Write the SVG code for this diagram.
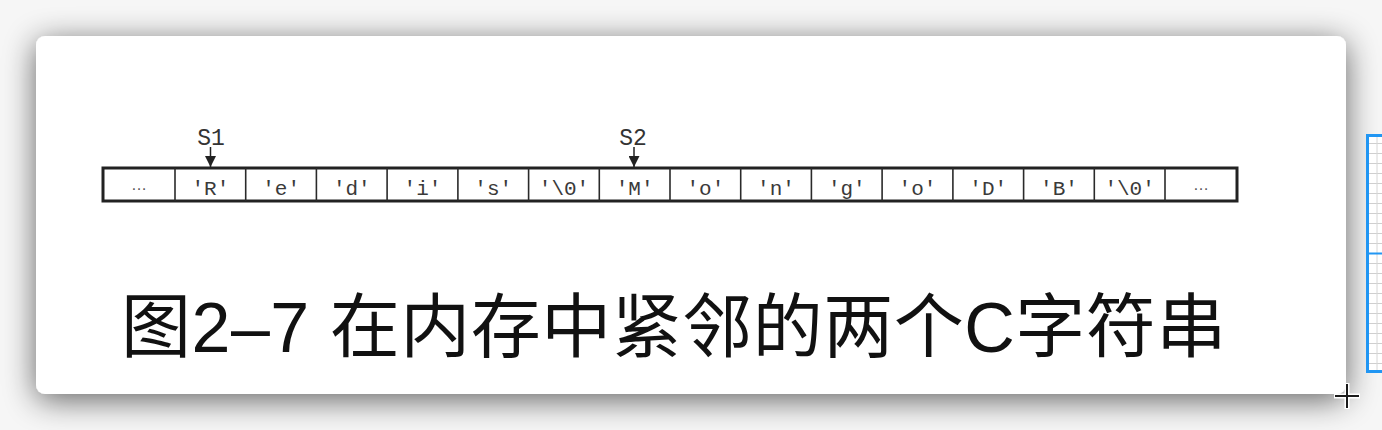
<svg xmlns="http://www.w3.org/2000/svg" width="1382" height="430" viewBox="0 0 1382 430">
<defs>
<filter id="shadow" x="-10%" y="-30%" width="120%" height="160%">
<feGaussianBlur in="SourceAlpha" stdDeviation="16"/>
<feOffset dx="0" dy="6" result="b"/>
<feComponentTransfer><feFuncA type="linear" slope="0.6"/></feComponentTransfer>
<feMerge><feMergeNode/><feMergeNode in="SourceGraphic"/></feMerge>
</filter>
<marker id="arrow" viewBox="0 0 10 10" refX="10" refY="5" markerWidth="11" markerHeight="11" markerUnits="userSpaceOnUse" orient="auto">
<path d="M0,0 L10,5 L0,10 Z" fill="#222"/>
</marker>
<pattern id="grid" x="1366" y="134" width="16" height="10" patternUnits="userSpaceOnUse">
<line x1="0" y1="9.5" x2="16" y2="9.5" stroke="#cfcfcf" stroke-width="1"/>
</pattern>
</defs>
<style>
.cell{font-family:"Liberation Mono","DejaVu Sans Mono",monospace;font-size:21px;fill:#3a3a3a;text-anchor:middle}
.ptr{font-family:"Liberation Mono","DejaVu Sans Mono",monospace;font-size:23px;fill:#333;text-anchor:middle}
.dots{font-family:"Liberation Sans",sans-serif;font-size:16px;fill:#555;text-anchor:middle}
.div{stroke:#2a2a2a;stroke-width:1.6}
.title{font-family:"Liberation Sans","Noto Sans CJK SC",sans-serif;font-size:70px;letter-spacing:0.5px;fill:#111}
</style>
<rect width="1382" height="430" fill="#f6f6f6"/>
<rect x="36" y="36" width="1310" height="358" rx="9" fill="#ffffff" filter="url(#shadow)"/>
<g id="side-panel">
<rect x="1367.5" y="135.5" width="20" height="236" fill="#ffffff"/>
<rect x="1367.5" y="135.5" width="20" height="236" fill="url(#grid)"/>
<line x1="1377" y1="136" x2="1377" y2="371" stroke="#d6d6d6" stroke-width="1"/>
<rect x="1367.5" y="135.5" width="20" height="236" fill="none" stroke="#2196f3" stroke-width="3"/>
<line x1="1366" y1="253.5" x2="1382" y2="253.5" stroke="#2196f3" stroke-width="2"/>
</g>
<g id="memory">
<rect x="103" y="168" width="1134" height="33" fill="#fff" stroke="#222" stroke-width="3"/>
<line class="div" x1="175" y1="168" x2="175" y2="201"/>
<line class="div" x1="245.7" y1="168" x2="245.7" y2="201"/>
<line class="div" x1="316.4" y1="168" x2="316.4" y2="201"/>
<line class="div" x1="387.1" y1="168" x2="387.1" y2="201"/>
<line class="div" x1="457.9" y1="168" x2="457.9" y2="201"/>
<line class="div" x1="528.6" y1="168" x2="528.6" y2="201"/>
<line class="div" x1="599.3" y1="168" x2="599.3" y2="201"/>
<line class="div" x1="670" y1="168" x2="670" y2="201"/>
<line class="div" x1="740.7" y1="168" x2="740.7" y2="201"/>
<line class="div" x1="811.4" y1="168" x2="811.4" y2="201"/>
<line class="div" x1="882.1" y1="168" x2="882.1" y2="201"/>
<line class="div" x1="952.9" y1="168" x2="952.9" y2="201"/>
<line class="div" x1="1023.6" y1="168" x2="1023.6" y2="201"/>
<line class="div" x1="1094.3" y1="168" x2="1094.3" y2="201"/>
<line class="div" x1="1165" y1="168" x2="1165" y2="201"/>
<text class="dots" x="139" y="190">…</text>
<text class="cell" x="210.4" y="195">'R'</text>
<text class="cell" x="281.1" y="195">'e'</text>
<text class="cell" x="351.8" y="195">'d'</text>
<text class="cell" x="422.5" y="195">'i'</text>
<text class="cell" x="493.2" y="195">'s'</text>
<text class="cell" x="564" y="195">'\0'</text>
<text class="cell" x="634.6" y="195">'M'</text>
<text class="cell" x="705.4" y="195">'o'</text>
<text class="cell" x="776" y="195">'n'</text>
<text class="cell" x="846.8" y="195">'g'</text>
<text class="cell" x="917.5" y="195">'o'</text>
<text class="cell" x="988.2" y="195">'D'</text>
<text class="cell" x="1059" y="195">'B'</text>
<text class="cell" x="1129.6" y="195">'\0'</text>
<text class="dots" x="1201" y="190">…</text>
</g>
<g id="s1">
<text class="ptr" x="211" y="145">S1</text>
</g>
<g id="s2">
<text class="ptr" x="633" y="145">S2</text>
</g>
<g id="connectors">
<line x1="210.5" y1="147" x2="210.5" y2="167" stroke="#222" stroke-width="1.5" marker-end="url(#arrow)"/>
<line x1="634" y1="147" x2="634" y2="167" stroke="#222" stroke-width="1.5" marker-end="url(#arrow)"/>
</g>
<g id="caption">
<text class="title" x="121" y="352">图2–7 在内存中紧邻的两个C字符串</text>
</g>
<g id="cursor">
<path d="M1347,383 V409 M1334,396 H1360" stroke="#fff" stroke-width="5"/>
<path d="M1347,384 V408 M1335,396 H1359" stroke="#1a1a1a" stroke-width="2"/>
</g>
</svg>
